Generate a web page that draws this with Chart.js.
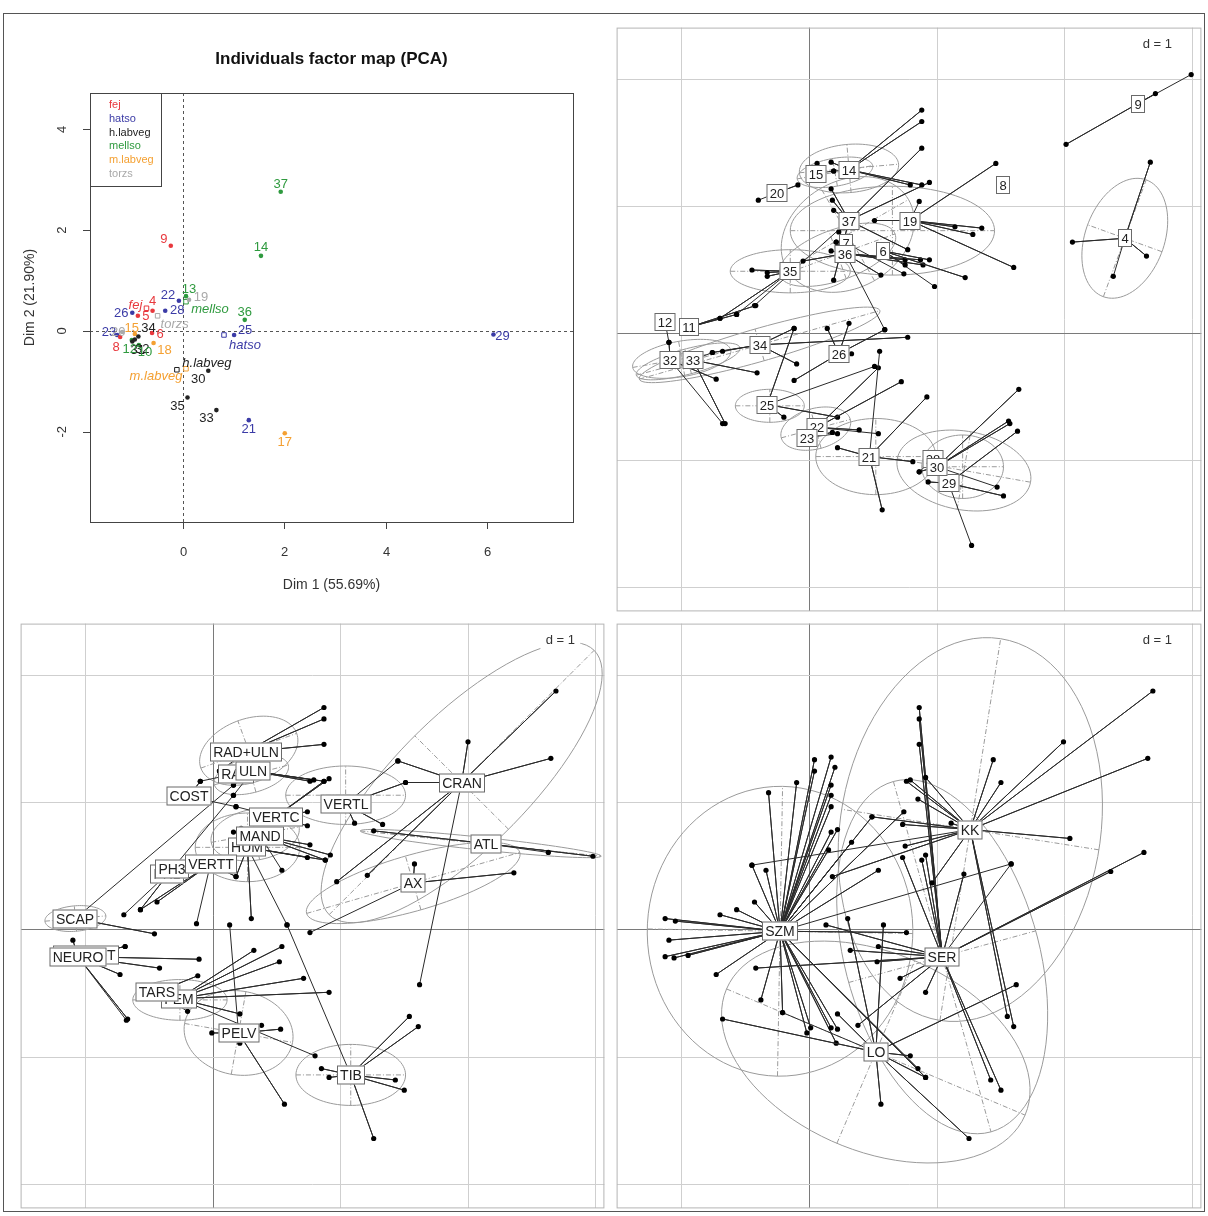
<!DOCTYPE html>
<html>
<head>
<meta charset="utf-8">
<script src="https://cdn.jsdelivr.net/npm/chart.js@4.4.1/dist/chart.umd.min.js"></script>
<style>
  body { margin: 0; background: #fff; }
  #page { position: relative; width: 1208px; height: 1216px; background: #fff; overflow: hidden; }
  #frame { position: absolute; left: 3px; top: 13px; width: 1200px; height: 1197px; border: 1px solid #555; }
  canvas { position: absolute; }
</style>
</head>
<body>
<div id="page">
  <div id="frame"></div>
  <canvas id="pca" width="602" height="598" style="left:4px;top:14px"></canvas>
  <canvas id="indiv" width="590" height="589" style="left:614px;top:25px"></canvas>
  <canvas id="bones" width="589" height="590" style="left:18px;top:621px"></canvas>
  <canvas id="sites" width="590" height="590" style="left:614px;top:621px"></canvas>
</div>
<script>
// ===== PCA individuals (top left) =====
const pcaGroupNames = ['fej', 'hatso', 'h.labveg', 'mellso', 'm.labveg', 'torzs'];
const pcaIds   = ['9','4','5','8','6','22','28','26','23','25','29','21','34','32','30','35','33','31','37','14','13','36','12','10','15','18','17','19','20'];
const pcaDim1  = [-0.24,-0.60,-0.89,-1.24,-0.61,-0.08,-0.35,-1.00,-1.30,1.01,6.13,1.30,-0.88,-1.00,0.50,0.09,0.66,-0.95,1.93,1.54,0.06,1.22,-1.01,-0.87,-0.95,-0.58,2.01,0.12,-1.20];
const pcaDim2  = [1.69,0.40,0.30,-0.12,-0.04,0.60,0.40,0.36,-0.08,-0.08,-0.07,-1.77,-0.11,-0.21,-0.79,-1.32,-1.57,-0.17,2.76,1.49,0.69,0.22,-0.18,-0.28,-0.06,-0.24,-2.03,0.62,-0.02];
const pcaGroup = [0,0,0,0,0,1,1,1,1,1,1,1,2,2,2,2,2,2,3,3,3,3,3,3,4,4,4,5,5];
const pcaCentDim1 = [-0.72, 0.81, -0.12, 0.06, 0.06, -0.50];
const pcaCentDim2 = [0.45, -0.08, -0.77, 0.58, -0.75, 0.30];
const pcaTicksX = [0, 2, 4, 6];
const pcaTicksY = [-2, 0, 2, 4];

// ===== ade4 class plots: shared grid =====
const adeRangeX = [-1.51, 3.07];
const adeRangeY = [-2.19, 2.41];
const adeGridX = [-1, 0, 1, 2, 3];
const adeGridY = [-2, -1, 0, 1, 2];

// top right: individuals
const indivLabels = ['4','6','7','8','9','11','12','14','15','19','20','21','22','23','25','26','28','29','30','32','33','34','35','36','37'];
const indivX = [2.47,0.58,0.29,1.52,2.57,-0.94,-1.13,0.31,0.05,0.79,-0.25,0.47,0.06,-0.02,-0.33,0.23,0.97,1.09,1.00,-1.09,-0.91,-0.39,-0.15,0.28,0.31];
const indivY = [0.75,0.65,0.71,1.17,1.81,0.05,0.09,1.29,1.26,0.89,1.11,-0.97,-0.74,-0.82,-0.56,-0.16,-0.99,-1.18,-1.05,-0.21,-0.21,-0.09,0.49,0.63,0.89];
const indivMembers = [
  [[2.67,1.35],[2.06,0.72],[2.64,0.61],[2.38,0.45]],
  [[0.94,0.58],[0.75,0.54],[1.22,0.44],[0.98,0.37]],
  [[0.21,0.72],[0.74,0.47]],
  [],
  [[2.71,1.89],[2.01,1.49],[2.99,2.04]],
  [[-0.42,0.22],[-0.57,0.15],[-0.70,0.12]],
  [[-1.10,-0.07]],
  [[0.88,1.76],[0.88,1.67],[0.79,1.17],[0.88,1.17],[0.17,1.35],[0.19,1.28]],
  [[0.06,1.34],[0.19,1.28]],
  [[1.46,1.34],[0.51,0.89],[1.14,0.84],[1.28,0.78],[1.35,0.83],[1.60,0.52],[0.86,1.04]],
  [[-0.09,1.17],[-0.40,1.05]],
  [[0.22,-0.90],[0.81,-1.01],[0.92,-0.50],[0.57,-1.39],[0.55,-0.14]],
  [[0.54,-0.27],[0.72,-0.38],[0.39,-0.76],[0.54,-0.79]],
  [[0.18,-0.78],[0.22,-0.79]],
  [[-0.20,-0.66],[-0.12,0.04],[0.22,-0.66],[0.51,-0.26]],
  [[0.14,0.04],[0.31,0.08],[0.59,0.03],[-0.12,-0.37],[0.33,-0.16]],
  [[0.86,-1.09]],
  [[0.93,-1.17],[1.52,-1.28],[1.63,-0.77],[1.27,-1.67]],
  [[0.86,-1.09],[1.64,-0.44],[1.56,-0.69],[1.57,-0.71],[1.47,-1.21]],
  [[-1.10,-0.07],[-0.73,-0.36],[-0.68,-0.71]],
  [[-0.41,-0.31],[-0.66,-0.71],[-0.76,-0.15]],
  [[-0.12,0.04],[0.77,-0.03],[-0.10,-0.24],[-0.76,-0.15],[-0.68,-0.14]],
  [[-0.45,0.50],[-0.33,0.48],[-0.33,0.45],[-0.70,0.12],[-0.57,0.15]],
  [[0.21,0.72],[0.17,0.65],[-0.05,0.57],[0.75,0.58],[0.87,0.58],[0.89,0.54],[0.56,0.46],[0.59,0.03]],
  [[0.88,1.46],[0.94,1.19],[0.17,1.14],[0.18,1.05],[0.19,0.97],[0.23,0.80],[0.77,0.66],[0.19,0.42],[-0.43,0.22]]
];
// [centre x, centre y, half axis 1, half axis 2, angle of axis 1 in degrees]
const indivEllipses = [
  [2.47,0.75,0.49,0.31,70], null, null, null, null, null, null,
  [0.31,1.30,0.39,0.19,5], [0.20,1.27,0.30,0.11,10], [0.65,0.81,0.80,0.35,0], null,
  [0.52,-0.97,0.47,0.30,0], [0.05,-0.75,0.28,0.16,15], null, [-0.31,-0.57,0.27,0.13,0], null, null,
  [1.20,-1.05,0.32,0.25,0], [1.21,-1.08,0.53,0.31,-10], [-1.00,-0.20,0.39,0.14,10], [-0.95,-0.22,0.42,0.10,15],
  [-0.39,-0.09,0.98,0.13,16], [-0.15,0.49,0.47,0.17,0], [0.22,0.62,0.48,0.20,20], [0.30,0.78,0.55,0.42,30]
];

// bottom left: bones
const boneLabels = ['ATL','AX','COST','CRAN','FEM','HUM','MAND','NEUROT','NEURO','PELV','PH1','PH3','RAD','RAD+ULN','SCAP','TARS','TIB','ULN','VERTC','VERTL','VERTT'];
const boneX = [2.14,1.57,-0.19,1.95,-0.27,0.27,0.37,-1.00,-1.06,0.20,-0.36,-0.32,0.18,0.26,-1.08,-0.44,1.08,0.31,0.49,1.04,-0.02];
const boneY = [0.68,0.37,1.05,1.16,-0.54,0.65,0.74,-0.20,-0.21,-0.81,0.44,0.48,1.23,1.40,0.09,-0.49,-1.14,1.25,0.89,0.99,0.52];
const boneMembers = [
  [[1.26,0.78],[2.98,0.58],[2.63,0.61]],
  [[1.58,0.52],[2.36,0.45],[0.76,-0.02]],
  [[-0.10,1.17],[0.18,0.97]],
  [[2.69,1.88],[2.65,1.35],[2.00,1.48],[1.45,1.33],[1.51,1.16],[0.97,0.38],[1.21,0.43],[1.62,-0.43]],
  [[0.32,-0.16],[0.52,-0.25],[0.54,-0.13],[0.71,-0.38],[0.91,-0.49],[0.21,-0.66],[0.80,-0.99]],
  [[0.74,0.57],[0.88,0.55],[0.18,0.42],[0.30,0.09],[0.58,0.04]],
  [[0.16,0.77],[0.22,0.80],[0.76,0.67],[0.92,0.59],[0.88,0.55],[0.54,0.47]],
  [[-0.69,-0.13]],
  [[-1.10,-0.08],[-0.69,-0.13],[-0.11,-0.23],[-0.42,-0.30],[-0.73,-0.35],[-0.67,-0.70],[-0.68,-0.71]],
  [[0.38,-0.75],[0.53,-0.78],[-0.01,-0.81],[0.21,-0.89],[0.56,-1.37],[0.13,0.04]],
  [[-0.70,0.12]],
  [[-0.57,0.16],[0.16,1.06]],
  [[0.05,1.25],[-0.10,1.17]],
  [[0.87,1.75],[0.87,1.66],[0.87,1.46],[0.05,1.25]],
  [[-0.46,-0.03],[0.16,1.14]],
  [[-0.12,-0.36],[-0.20,-0.64]],
  [[0.85,-1.09],[0.91,-1.16],[1.54,-0.68],[1.61,-0.76],[1.43,-1.18],[1.50,-1.26],[1.26,-1.64],[0.58,0.04]],
  [[0.76,1.17],[0.79,1.18],[0.87,1.17],[0.16,1.14],[0.16,1.06]],
  [[0.74,0.93],[0.74,0.82],[0.91,1.19],[0.87,1.17],[0.18,0.97]],
  [[1.51,1.16],[1.11,0.84],[1.33,0.83],[1.45,1.33]],
  [[-0.44,0.22],[-0.57,0.16],[0.18,0.42],[-0.13,0.05]]
];
const boneEllipses = [
  [2.10,0.68,0.95,0.05,-6], [1.57,0.37,0.87,0.22,16], null, [1.95,1.16,1.47,0.52,45],
  [-0.26,-0.55,0.37,0.16,0], [0.27,0.65,0.41,0.27,0], [0.33,0.75,0.35,0.20,10], null, null,
  [0.20,-0.81,0.43,0.33,-10], null, null, null, [0.28,1.41,0.40,0.25,20], [-1.08,0.09,0.24,0.10,5],
  null, [1.08,-1.14,0.43,0.24,0], [0.30,1.22,0.30,0.14,15], null, [1.04,1.06,0.47,0.23,0], null
];

// bottom right: sites
const siteLabels = ['KK', 'LO', 'SER', 'SZM'];
const siteX = [1.26, 0.52, 1.04, -0.23];
const siteY = [0.79, -0.96, -0.21, -0.01];
const siteMembers = [
  [[2.69,1.88],[1.99,1.48],[2.65,1.35],[1.44,1.34],[1.50,1.16],[0.76,1.17],[0.79,1.18],[0.91,1.20],[0.85,1.03],[0.73,0.83],[0.75,0.66],[0.96,0.37],[1.55,-0.68],[1.60,-0.76],[0.49,0.89],[1.11,0.84],[2.04,0.72],[0.18,0.42],[-0.45,0.51]],
  [[-0.68,-0.70],[0.56,-1.37],[1.25,-1.64],[0.91,-1.16],[0.79,-0.99],[1.62,-0.43],[0.30,0.09],[0.58,0.04],[0.22,-0.66],[-0.21,-0.65]],
  [[0.86,1.75],[0.86,1.66],[0.86,1.46],[0.73,0.57],[0.88,0.55],[0.91,0.59],[0.54,-0.13],[0.32,-0.16],[0.13,0.04],[0.53,-0.25],[0.71,-0.38],[0.91,-0.49],[2.36,0.46],[1.21,0.44],[-0.42,-0.30],[0.38,-0.75],[1.50,-1.26],[1.42,-1.18],[2.62,0.61],[1.58,0.52]],
  [[0.04,1.34],[0.17,1.36],[0.04,1.25],[0.20,1.28],[0.17,1.14],[0.17,1.06],[0.17,0.97],[-0.10,1.16],[-0.32,1.08],[0.22,0.79],[0.17,0.77],[0.33,0.69],[0.15,0.63],[-0.45,0.51],[-0.34,0.47],[-0.43,0.22],[-0.57,0.16],[-0.70,0.12],[-1.13,0.09],[-1.05,0.07],[-1.10,-0.08],[-1.13,-0.21],[-1.06,-0.22],[-0.95,-0.20],[0.74,0.93],[0.49,0.89],[0.76,-0.02],[-0.38,-0.55],[-0.21,-0.65],[0.01,-0.77],[-0.02,-0.81],[0.17,-0.77],[0.22,-0.78],[0.21,-0.89],[0.91,-1.16],[0.85,-1.09],[-0.73,-0.35],[0.54,0.47],[1.58,0.52]]
];
const siteEllipses = [
  [1.26,0.79,1.52,1.02,81], [0.52,-0.96,1.27,0.78,-23], [1.04,-0.21,1.43,0.76,-74.5], [-0.23,-0.01,1.14,1.04,89]
];

// ===== styling =====
const FONT = '"Liberation Sans", Arial, sans-serif';
const pcaColors = ['#e8383d', '#3b3ba6', '#222222', '#2f9a3f', '#f4a032', '#a9a9a9'];
// label offsets in px (text centre relative to the point)
const pcaLabelShift = {'9':[-7,-6],'4':[0,-9],'5':[8,1],'8':[-4,10],'6':[8,1],'22':[-11,-5],'28':[12,0],'26':[-11,1],
  '23':[-8,-3],'25':[11,-5],'29':[9,2],'21':[0,9],'34':[10,-8],'32':[10,8],'30':[-10,9],'35':[-10,9],'33':[-10,8],
  '31':[3,11],'37':[0,-7],'14':[0,-8],'13':[3,-7],'36':[0,-7],'12':[-2,9],'10':[6,7],'15':[-3,-6],'18':[11,7],
  '17':[0,9],'19':[12,-2],'20':[-4,0]};
const pcaCentShift = [[-11,-3],[21,10],[30,-6],[24,8],[-30,8],[17,9]];

// ===== PCA chart =====
const pcaDecor = {
  id: 'pcaDecor',
  beforeDatasetsDraw(chart) {
    const {ctx, chartArea: a, scales: {x, y}} = chart;
    ctx.save();
    ctx.strokeStyle = '#555';
    ctx.lineWidth = 1;
    ctx.setLineDash([3, 3]);
    const x0 = Math.round(x.getPixelForValue(0)) + 0.5, y0 = Math.round(y.getPixelForValue(0)) + 0.5;
    ctx.beginPath();
    ctx.moveTo(x0, a.top); ctx.lineTo(x0, a.bottom);
    ctx.moveTo(a.left, y0); ctx.lineTo(a.right, y0);
    ctx.stroke();
    ctx.restore();
  },
  afterDatasetsDraw(chart) {
    const {ctx, chartArea: a, scales: {x, y}} = chart;
    ctx.save();
    ctx.textAlign = 'center';
    ctx.textBaseline = 'middle';
    // point labels
    ctx.font = '13px ' + FONT;
    pcaIds.forEach((id, i) => {
      const s = pcaLabelShift[id] || [0, -8];
      ctx.fillStyle = pcaColors[pcaGroup[i]];
      ctx.fillText(id, x.getPixelForValue(pcaDim1[i]) + s[0], y.getPixelForValue(pcaDim2[i]) + s[1]);
    });
    // group labels
    ctx.font = 'italic 13px ' + FONT;
    pcaGroupNames.forEach((g, i) => {
      ctx.fillStyle = pcaColors[i];
      ctx.fillText(g, x.getPixelForValue(pcaCentDim1[i]) + pcaCentShift[i][0], y.getPixelForValue(pcaCentDim2[i]) + pcaCentShift[i][1]);
    });
    // legend
    ctx.strokeStyle = '#444';
    ctx.lineWidth = 1;
    ctx.fillStyle = '#fff';
    ctx.fillRect(a.left, a.top, 71, 93);
    ctx.strokeRect(a.left + 0.5, a.top + 0.5, 71, 93);
    ctx.font = '11px ' + FONT;
    ctx.textAlign = 'left';
    pcaGroupNames.forEach((g, i) => {
      ctx.fillStyle = pcaColors[i];
      ctx.fillText(g, a.left + 19, a.top + 12 + i * 13.8);
    });
    // box
    ctx.strokeStyle = '#444';
    ctx.strokeRect(a.left + 0.5, a.top + 0.5, a.right - a.left, a.bottom - a.top);
    // axes
    ctx.fillStyle = '#333';
    ctx.font = '13px ' + FONT;
    ctx.textAlign = 'center';
    ctx.beginPath();
    pcaTicksX.forEach(v => {
      const px = Math.round(x.getPixelForValue(v)) + 0.5;
      ctx.moveTo(px, a.bottom); ctx.lineTo(px, a.bottom + 7);
      ctx.fillText(String(v), px, a.bottom + 30);
    });
    pcaTicksY.forEach(v => {
      const py = Math.round(y.getPixelForValue(v)) + 0.5;
      ctx.moveTo(a.left, py); ctx.lineTo(a.left - 7, py);
    });
    ctx.stroke();
    pcaTicksY.forEach(v => {
      ctx.save();
      ctx.translate(a.left - 28, y.getPixelForValue(v));
      ctx.rotate(-Math.PI / 2);
      ctx.fillText(String(v), 0, 0);
      ctx.restore();
    });
    ctx.font = '14px ' + FONT;
    ctx.fillText('Dim 1 (55.69%)', (a.left + a.right) / 2, a.bottom + 63);
    ctx.save();
    ctx.translate(a.left - 60, (a.top + a.bottom) / 2 - 10);
    ctx.rotate(-Math.PI / 2);
    ctx.fillText('Dim 2 (21.90%)', 0, 0);
    ctx.restore();
    ctx.fillStyle = '#111';
    ctx.font = 'bold 17px ' + FONT;
    ctx.fillText('Individuals factor map (PCA)', (a.left + a.right) / 2, a.top - 34);
    ctx.restore();
  }
};

const pcaDatasets = pcaGroupNames.map((g, gi) => ({
  data: pcaIds.map((id, i) => ({x: pcaDim1[i], y: pcaDim2[i], g: pcaGroup[i]})).filter(p => p.g === gi),
  backgroundColor: pcaColors[gi],
  borderWidth: 0,
  pointRadius: 2.3,
  pointHoverRadius: 2.3
}));
pcaDatasets.push({
  data: pcaCentDim1.map((v, i) => ({x: v, y: pcaCentDim2[i]})),
  pointStyle: 'rect',
  pointRadius: 3.2,
  pointHoverRadius: 3.2,
  backgroundColor: 'rgba(255,255,255,0)',
  borderColor: pcaColors,
  borderWidth: 1
});

new Chart(document.getElementById('pca'), {
  type: 'scatter',
  data: {datasets: pcaDatasets},
  options: {
    responsive: false,
    animation: false,
    layout: {padding: {left: 86, top: 79, right: 33, bottom: 90}},
    plugins: {legend: {display: false}, tooltip: {enabled: false}},
    scales: {
      x: {type: 'linear', min: -1.835, max: 7.70, ticks: {display: false}, grid: {display: false},
          border: {display: false}, afterFit: s => { s.height = 0; }},
      y: {type: 'linear', min: -3.79, max: 4.72, ticks: {display: false}, grid: {display: false},
          border: {display: false}, afterFit: s => { s.width = 0; }}
    }
  },
  plugins: [pcaDecor]
});

// ===== ade4-style class plots =====
function makeAdeDecor(id, names, cx, cy, ellipses, fontSize) {
  return {
    id: id,
    beforeDatasetsDraw(chart) {
      const {ctx, chartArea: a, scales: {x, y}} = chart;
      ctx.save();
      ctx.beginPath();
      ctx.rect(a.left, a.top, a.right - a.left, a.bottom - a.top);
      ctx.clip();
      ctx.strokeStyle = '#9a9a9a';
      ctx.lineWidth = 1;
      ellipses.forEach(e => {
        if (!e) return;
        const th = e[4] * Math.PI / 180, c = Math.cos(th), s = Math.sin(th);
        ctx.setLineDash([]);
        ctx.beginPath();
        for (let k = 0; k <= 90; k++) {
          const t = k / 90 * 2 * Math.PI;
          const dx = e[2] * Math.cos(t) * c - e[3] * Math.sin(t) * s;
          const dy = e[2] * Math.cos(t) * s + e[3] * Math.sin(t) * c;
          const px = x.getPixelForValue(e[0] + dx), py = y.getPixelForValue(e[1] + dy);
          if (k) ctx.lineTo(px, py); else ctx.moveTo(px, py);
        }
        ctx.stroke();
        ctx.setLineDash([5, 2, 1, 2]);
        ctx.beginPath();
        ctx.moveTo(x.getPixelForValue(e[0] - e[2] * c), y.getPixelForValue(e[1] - e[2] * s));
        ctx.lineTo(x.getPixelForValue(e[0] + e[2] * c), y.getPixelForValue(e[1] + e[2] * s));
        ctx.moveTo(x.getPixelForValue(e[0] + e[3] * s), y.getPixelForValue(e[1] - e[3] * c));
        ctx.lineTo(x.getPixelForValue(e[0] - e[3] * s), y.getPixelForValue(e[1] + e[3] * c));
        ctx.stroke();
      });
      ctx.restore();
    },
    afterDatasetsDraw(chart) {
      const {ctx, chartArea: a, scales: {x, y}} = chart;
      ctx.save();
      ctx.font = fontSize + 'px ' + FONT;
      ctx.textAlign = 'center';
      ctx.textBaseline = 'middle';
      ctx.lineWidth = 1;
      names.forEach((n, i) => {
        const px = Math.round(x.getPixelForValue(cx[i])), py = Math.round(y.getPixelForValue(cy[i]));
        const w = Math.ceil(ctx.measureText(n).width) + 6, h = fontSize + 5;
        ctx.fillStyle = '#fff';
        ctx.fillRect(px - w / 2, py - h / 2, w, h);
        ctx.strokeStyle = '#6a6a6a';
        ctx.strokeRect(px - w / 2 + 0.5, py - h / 2 + 0.5, w - 1, h - 1);
        ctx.fillStyle = '#222';
        ctx.fillText(n, px, py + 1);
      });
      // scale note
      ctx.font = '13px ' + FONT;
      ctx.fillStyle = '#fff';
      ctx.fillRect(a.right - 64, a.top + 8, 40, 18);
      ctx.fillStyle = '#333';
      ctx.fillText('d = 1', a.right - 44, a.top + 17);
      ctx.strokeStyle = '#b5b5b5';
      ctx.strokeRect(a.left + 0.5, a.top + 0.5, a.right - a.left - 1, a.bottom - a.top - 1);
      ctx.restore();
    }
  };
}

function adeScale(range, grid, horizontal) {
  return {
    type: 'linear', min: range[0], max: range[1],
    afterBuildTicks: s => { s.ticks = grid.map(v => ({value: v})); },
    afterFit: s => { if (horizontal) s.height = 0; else s.width = 0; },
    ticks: {display: false},
    border: {display: false},
    grid: {drawTicks: false, lineWidth: 1, color: c => (c.tick && c.tick.value === 0 ? '#7a7a7a' : '#cfcfcf')}
  };
}

function adeChart(canvasId, names, cx, cy, members, ellipses, fontSize) {
  const datasets = names.map((n, i) => ({
    data: members[i].flatMap(p => [{x: cx[i], y: cy[i]}, {x: p[0], y: p[1]}]),
    showLine: true,
    tension: 0,
    borderColor: '#2a2a2a',
    borderWidth: 1,
    pointRadius: c => (c.index % 2 ? 2.6 : 0),
    pointHoverRadius: 0,
    pointBackgroundColor: '#000',
    pointBorderWidth: 0
  }));
  new Chart(document.getElementById(canvasId), {
    type: 'scatter',
    data: {datasets},
    options: {
      responsive: false,
      animation: false,
      layout: {padding: 0},
      plugins: {legend: {display: false}, tooltip: {enabled: false}},
      scales: {x: adeScale(adeRangeX, adeGridX, true), y: adeScale(adeRangeY, adeGridY, false)}
    },
    plugins: [makeAdeDecor(canvasId + 'Decor', names, cx, cy, ellipses, fontSize)]
  });
}

adeChart('indiv', indivLabels, indivX, indivY, indivMembers, indivEllipses, 13);
adeChart('bones', boneLabels, boneX, boneY, boneMembers, boneEllipses, 14);
adeChart('sites', siteLabels, siteX, siteY, siteMembers, siteEllipses, 14);
</script>
</body>
</html>
